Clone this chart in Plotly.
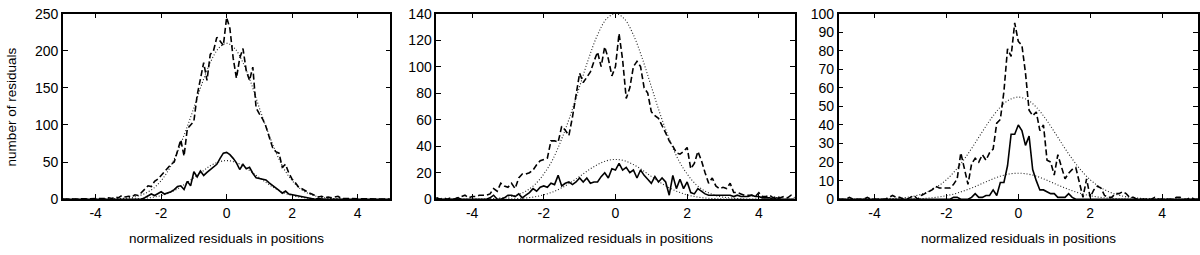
import numpy as np
import plotly.graph_objects as go

# bin centres (normalized residuals), -5.0 .. 5.0 step 0.1
bins = np.round(np.arange(-50, 51) / 10.0, 1)

# ---- panel 1 ----
p1_all = [0, 0, 0, 1, 0, 0, 0, 0, 0, 0,
          0, 1, 0, 1, 2, 1, 3, 2, 5, 3,
          4, 3, 6, 5, 9, 13, 18, 17, 24, 27,
          32, 38, 42, 47, 50, 65, 80, 58, 95, 100,
          105, 140, 160, 184, 160, 195, 200, 218, 213, 207,
          245,
          230, 190, 163, 190, 203, 173, 160, 178, 123, 115,
          108, 98, 85, 70, 64, 62, 43, 47, 35, 27,
          22, 16, 14, 11, 9, 7, 5, 3, 4, 2,
          3, 2, 3, 4, 1, 1, 0, 1, 0, 0,
          0, 0, 0, 0, 0, 0, 0, 0, 0, 0]
p1_sub = [0, 0, 0, 0, 0, 0, 0, 0, 0, 0,
          0, 0, 0, 0, 0, 0, 0, 0, 0, 0,
          0, 0, 1, 0, 0, 2, 5, 7, 5, 8,
          10, 7, 8, 10, 13, 17, 18, 13, 24, 18,
          37, 30, 38, 32, 36, 40, 43, 47, 55, 62,
          63,
          60, 55, 49, 40, 47, 41, 43, 35, 29, 28,
          27, 26, 22, 19, 15, 12, 8, 11, 7, 6,
          5, 4, 3, 2, 1, 1, 0, 1, 0, 0,
          0, 0, 0, 0, 0, 0, 0, 0, 0, 0,
          0, 0, 0, 0, 0, 0, 0, 0, 0, 0]

# ---- panel 2 ----
p2_all = [1, 0, 1, 0, 1, 0, 1, 2, 3, 1,
          2, 2, 3, 3, 3, 4, 8, 6, 12, 10,
          9, 12, 8, 16, 19, 19, 20, 22, 26, 29,
          30, 31, 44, 44, 43, 55, 52, 48, 62, 80,
          95, 88, 92, 96, 104, 111, 100, 115, 106, 93,
          100,
          125, 105, 76, 84, 100, 104, 100, 84, 80, 66,
          63, 61, 56, 50, 44, 40, 35, 34, 36, 39,
          23, 27, 36, 29, 20, 12, 16, 10, 8, 9,
          8, 12, 5, 5, 4, 3, 3, 3, 2, 5,
          2, 2, 3, 1, 2, 1, 2, 1, 3, 1]
p2_sub = [1, 0, 0, 0, 0, 0, 1, 0, 0, 0,
          0, 0, 0, 0, 0, 1, 3, 0, 0, 1,
          3, 3, 2, 4, 1, 3, 5, 8, 6, 9,
          10, 9, 12, 11, 18, 10, 12, 13, 11, 13,
          16, 13, 16, 12, 13, 13, 17, 20, 16, 23,
          22,
          27, 22, 24, 20, 22, 16, 22, 18, 15, 12,
          17, 13, 16, 13, 3, 18, 8, 15, 8, 13,
          5, 4, 8, 6, 4, 3, 3, 3, 3, 3,
          3, 3, 2, 3, 2, 2, 2, 3, 2, 2,
          1, 1, 1, 0, 1, 0, 0, 0, 0, 0]

# ---- panel 3 ----
p3_all = [0, 0, 0, 1, 0, 0, 0, 0, 1, 0,
          0, 0, 0, 0, 1, 2, 1, 1, 0, 0,
          1, 2, 0, 2, 3, 4, 5, 7, 6, 6,
          6, 6, 8, 11, 25, 16, 8, 19, 22, 20,
          24, 21, 25, 27, 41, 43, 58, 81, 77, 95,
          85,
          83, 68, 48, 45, 47, 37, 40, 21, 20, 13,
          24, 17, 11, 14, 16, 17, 9, 1, 11, 1,
          5, 7, 6, 2, 1, 1, 3, 3, 4, 3,
          1, 1, 0, 0, 0, 0, 0, 1, 0, 0,
          0, 0, 0, 1, 1, 0, 0, 1, 0, 0]
p3_sub = [0, 0, 0, 0, 0, 0, 0, 0, 0, 0,
          0, 0, 0, 0, 0, 0, 0, 0, 0, 0,
          0, 0, 0, 0, 0, 0, 0, 0, 0, 0,
          0, 0, 1, 1, 0, 0, 0, 1, 3, 1,
          1, 2, 2, 5, 2, 9, 9, 18, 35, 35,
          40,
          37, 29, 34, 16, 10, 5, 5, 4, 3, 3,
          1, 1, 1, 3, 1, 0, 0, 0, 0, 0,
          0, 0, 0, 0, 0, 0, 0, 0, 0, 0,
          0, 0, 0, 0, 0, 0, 0, 0, 0, 0,
          0, 0, 0, 0, 0, 0, 0, 0, 0, 0]

# ---- fitted gaussians (dotted), read at these abscissae ----
fit_x = [-5, -4, -3.5, -3, -2.75, -2.5, -2.25, -2, -1.75, -1.5, -1.25, -1, -0.75, -0.5, -0.25, 0,
         0.25, 0.5, 0.75, 1, 1.25, 1.5, 1.75, 2, 2.25, 2.5, 2.75, 3, 3.5, 4, 5]
p1_fit_all = [0, 0, 0.3, 1.8, 3.8, 7.6, 14, 25, 41, 64, 92, 123, 156, 184, 203, 210,
              203, 184, 156, 123, 92, 64, 41, 25, 14, 7.6, 3.8, 1.8, 0.3, 0, 0]
p1_fit_sub = [0, 0, 0.05, 0.2, 0.6, 1.3, 2.6, 4.9, 8.5, 14, 21, 29, 37, 45, 50, 52,
              50, 45, 37, 29, 21, 14, 8.5, 4.9, 2.6, 1.3, 0.6, 0.2, 0.05, 0, 0]
p2_fit_all = [0, 0, 0.3, 1.6, 3.2, 6.1, 11, 19, 30, 45.5, 64, 85, 106, 124, 136, 140,
              136, 124, 106, 85, 64, 45.5, 30, 19, 11, 6.1, 3.2, 1.6, 0.3, 0, 0]
p2_fit_sub = [0, 0, 0.03, 0.2, 0.45, 0.9, 1.8, 3.3, 5.5, 8.6, 12.6, 17.2, 22, 26.1, 29, 30,
              29, 26.1, 22, 17.2, 12.6, 8.6, 5.5, 3.3, 1.8, 0.9, 0.45, 0.2, 0.03, 0, 0]
p3_fit_all = [0, 0.07, 0.35, 1.3, 2.4, 4.2, 6.8, 10.5, 15.5, 21.7, 28.8, 36.4, 43.6, 49.6, 53.6, 55,
              53.6, 49.6, 43.6, 36.4, 28.8, 21.7, 15.5, 10.5, 6.8, 4.2, 2.4, 1.3, 0.35, 0.07, 0]
p3_fit_sub = [0, 0, 0.03, 0.15, 0.3, 0.6, 1.1, 1.9, 3.0, 4.6, 6.4, 8.5, 10.6, 12.4, 13.6, 14,
              13.6, 12.4, 10.6, 8.5, 6.4, 4.6, 3.0, 1.9, 1.1, 0.6, 0.3, 0.15, 0.03, 0, 0]

x_ticks = [-4, -2, 0, 2, 4]
x_ticktext = ["-4", "-2", "0", "2", "4"]
y_ticks = [[0, 50, 100, 150, 200, 250],
           [0, 20, 40, 60, 80, 100, 120, 140],
           [0, 10, 20, 30, 40, 50, 60, 70, 80, 90, 100]]
y_max = [250, 140, 100]
x_title = "normalized residuals in positions"
y_title = "number of residuals"

W, H = 1200, 255


def px(xw):
    return xw / W


def py(yw):
    return 1 - yw / H


# pixel boxes of the three panels: (left, right, top, bottom)
boxes = [(63, 391, 6, 204), (437, 796, 6, 204), (840, 1200, 6, 204)]

panels = [(p1_all, p1_sub, p1_fit_all, p1_fit_sub),
          (p2_all, p2_sub, p2_fit_all, p2_fit_sub),
          (p3_all, p3_sub, p3_fit_all, p3_fit_sub)]

fig = go.Figure()
FONT = "Liberation Sans, Arial, Helvetica, sans-serif"
for i, (d_all, d_sub, f_all, f_sub) in enumerate(panels):
    sfx = "" if i == 0 else str(i + 1)
    xa, ya = "x" + sfx, "y" + sfx
    for f in (f_all, f_sub):
        fig.add_trace(go.Scatter(x=fit_x, y=f, mode="lines", xaxis=xa, yaxis=ya,
                                 line=dict(color="#222222", width=1.1, dash="1px,2px", shape="spline"),
                                 hoverinfo="skip", showlegend=False))
    fig.add_trace(go.Scatter(x=bins, y=d_sub, mode="lines", xaxis=xa, yaxis=ya,
                             line=dict(color="black", width=1.6), showlegend=False))
    fig.add_trace(go.Scatter(x=bins, y=d_all, mode="lines", xaxis=xa, yaxis=ya,
                             line=dict(color="black", width=1.6, dash="6px,3px"), showlegend=False))
    l, r, t, b = boxes[i]
    common = dict(showline=True, linecolor="black", linewidth=1.5, mirror="ticks",
                  ticks="inside", ticklen=5, tickwidth=1, tickcolor="black",
                  showgrid=False, zeroline=False, ticklabeloverflow="allow",
                  tickfont=dict(family=FONT, size=14, color="black"))
    fig.layout["xaxis" + sfx] = dict(domain=[px(l), min(px(r), 1.0)], range=[-5, 5],
                                     tickvals=x_ticks, ticktext=x_ticktext,
                                     anchor=ya, **common)
    fig.layout["yaxis" + sfx] = dict(domain=[py(b), py(t)], range=[0, y_max[i]],
                                     tickvals=y_ticks[i], anchor=xa, **common)
    fig.add_annotation(text=x_title, xref="paper", yref="paper",
                       x=px((l + r) / 2), y=py(246), xanchor="center", yanchor="middle",
                       showarrow=False, font=dict(family=FONT, size=13.5, color="black"))

fig.add_annotation(text=y_title, xref="paper", yref="paper", x=px(11), y=py(105),
                   textangle=-90, xanchor="center", yanchor="middle", showarrow=False,
                   font=dict(family=FONT, size=13.5, color="black"))

fig.update_layout(width=W, height=H, margin=dict(l=0, r=0, t=0, b=0),
                  paper_bgcolor="white", plot_bgcolor="white")
# remove the default 8px page margin so the 1200x255 figure fills the window exactly
fig.write_html("out.html", config={"displayModeBar": False},
               post_script="document.body.style.margin='0';document.body.style.overflow='hidden';")
